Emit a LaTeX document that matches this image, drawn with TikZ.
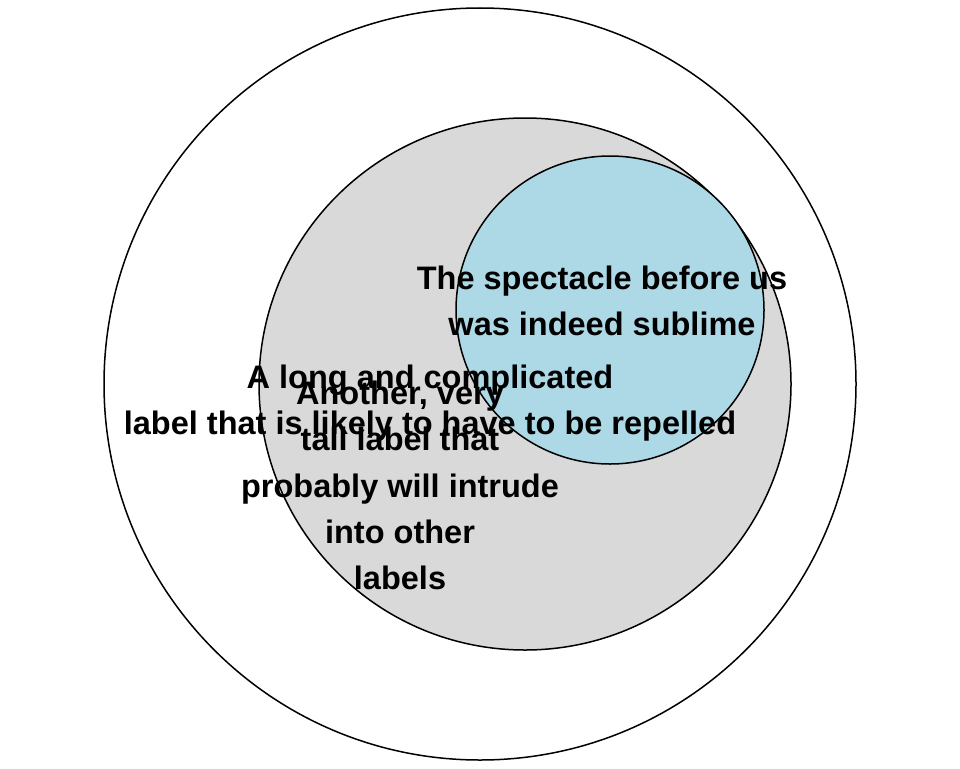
\documentclass[tikz,border=0pt]{standalone}
\usepackage{fontspec}
\setmainfont{Liberation Sans}
\definecolor{setgray}{HTML}{D9D9D9}
\definecolor{setblue}{HTML}{ADD8E6}
\tikzset{
  setcircle/.style={draw=black, line width=1.5pt},
  lbl/.style={anchor=base, inner sep=0pt, font=\bfseries\fontsize{32.5}{46.5}\selectfont}
}
\begin{document}
\begin{tikzpicture}[x=1pt, y=-1pt]
\useasboundingbox (0,0) rectangle (960,768);
\fill[white] (0,0) rectangle (960,768);
\node[setcircle, circle, minimum size=752pt, fill=white] (outer) at (480,384) {};
\node[setcircle, circle, minimum size=532pt, fill=setgray] (mid) at (525,384) {};
\node[setcircle, circle, minimum size=308pt, fill=setblue] (inner) at (610,310) {};
% label 1
\node[lbl] (a1) at (602,289) {The spectacle before us};
\node[lbl] (a2) at (602,335.5) {was indeed sublime};
% label 2
\node[lbl] (b1) at (430,388) {A long and complicated};
\node[lbl] (b2) at (430,434) {label that is likely to have to be repelled};
% label 3
\node[lbl] (c1) at (400,404) {Another, very};
\node[lbl] (c2) at (400,450.5) {tall label that};
\node[lbl] (c3) at (400,497) {probably will intrude};
\node[lbl] (c4) at (400,543) {into other};
\node[lbl] (c5) at (400,589) {labels};
\end{tikzpicture}
\end{document}
